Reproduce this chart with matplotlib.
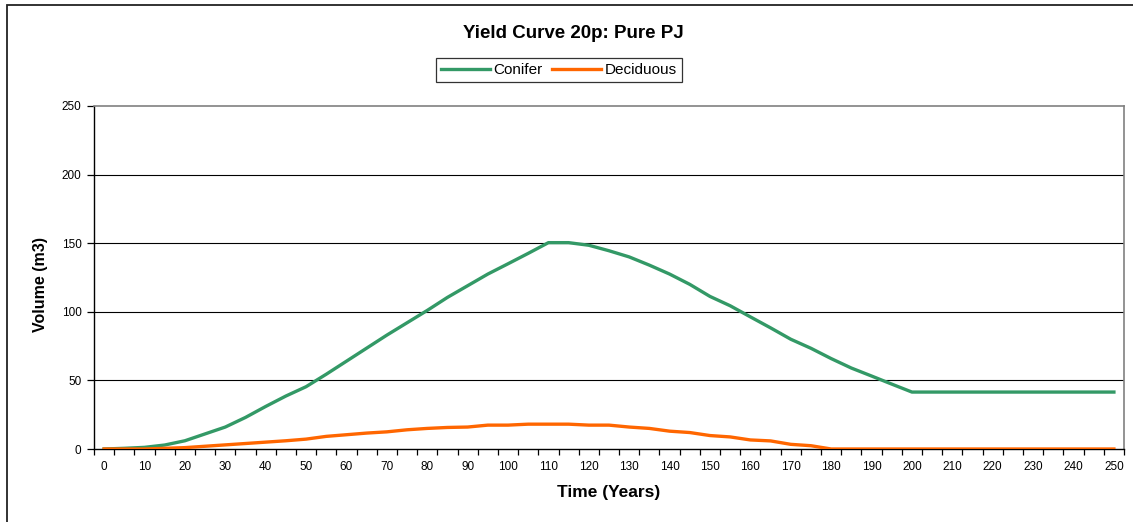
import matplotlib
matplotlib.use("Agg")
import matplotlib.pyplot as plt
from matplotlib.patches import Rectangle

plt.rcParams['font.family'] = ['Liberation Sans', 'DejaVu Sans']

# Stand age (years), one point every 5 years
years = list(range(0, 255, 5))

conifer = [0, 0.5, 1.2, 2.9, 6, 11, 16, 23, 31, 38.6,
           45.4, 54.5, 64, 73.5, 83, 92, 101, 110.5, 119, 127.5,
           135, 142.6, 150.4, 150.4, 148.5, 144.5, 140, 134, 127.5, 120,
           111.2, 104.4, 96.3, 88.3, 80, 73.4, 65.9, 59, 53.2, 47.3,
           41.5, 41.5, 41.5, 41.5, 41.5, 41.5, 41.5, 41.5, 41.5, 41.5,
           41.5]

deciduous = [0, 0, 0, 0.5, 1, 2, 3, 4, 5, 6,
             7.2, 9.2, 10.4, 11.6, 12.5, 14, 15, 15.7, 16, 17.4,
             17.4, 18.1, 18.1, 18.1, 17.4, 17.4, 16, 15, 13, 12,
             9.8, 8.8, 6.6, 5.9, 3.4, 2.4, 0, 0, 0, 0,
             0, 0, 0, 0, 0, 0, 0, 0, 0, 0,
             0]

x_labels = list(range(0, 260, 10))
y_ticks = [0, 50, 100, 150, 200, 250]

green = '#339966'
orange = '#FF6600'

W, H = 1133, 522
fig = plt.figure(figsize=(W / 100, H / 100), dpi=100)
fig.patch.set_facecolor('white')

# outer chart frame (only top and left edges fall inside the canvas)
fig.patches.append(Rectangle((7 / W, -0.1), 1.2, 1 - 5 / H + 0.1,
                             transform=fig.transFigure, fill=False,
                             edgecolor='#222222', linewidth=1.3,
                             clip_on=False))

ax = fig.add_axes([94 / W, 1 - 449 / H, (1124 - 94) / W, (449 - 106) / H])

ax.plot(years, conifer, color=green, linewidth=2.4, label='Conifer',
        solid_joinstyle='round', zorder=3)
ax.plot(years, deciduous, color=orange, linewidth=2.4, label='Deciduous',
        solid_joinstyle='round', zorder=3)

ax.set_xlim(-2.5, 252.5)
ax.set_ylim(0, 250)

for v in y_ticks[1:-1]:
    ax.axhline(v, color='black', linewidth=0.8, zorder=1)

ax.set_yticks(y_ticks)
ax.set_xticks(x_labels)
ax.set_xticklabels([str(v) for v in x_labels])
ax.set_xticks([-2.5 + 5 * i for i in range(52)], minor=True)
ax.tick_params(axis='x', which='major', length=0, pad=9, labelsize=8.5)
ax.tick_params(axis='x', which='minor', length=4, width=0.9, direction='out')
ax.tick_params(axis='y', length=5, width=0.9, direction='out', pad=4,
               labelsize=8.5)

for side in ('top', 'right'):
    ax.spines[side].set_color('#808080')
    ax.spines[side].set_linewidth(1.2)
for side in ('left', 'bottom'):
    ax.spines[side].set_color('black')
    ax.spines[side].set_linewidth(1.0)

ax.set_xlabel('Time (Years)', fontsize=12.5, fontweight='bold')
ax.set_ylabel('Volume (m3)', fontsize=11.5, fontweight='bold')
ax.xaxis.set_label_coords(0.5, -(493 - 449) / 343)
ax.yaxis.set_label_coords((41 - 94) / 1030, (449 - 285) / 343)
ax.xaxis.label.set_va('center')
ax.yaxis.label.set_va('center')

fig.text(573 / W, 1 - 34 / H, 'Yield Curve 20p: Pure PJ', ha='center',
         va='center', fontsize=13.5, fontweight='bold')

leg = fig.legend(loc='center', bbox_to_anchor=(559 / W, 1 - 70 / H), ncol=2,
                 frameon=True, fancybox=False, fontsize=11, handlelength=3.2,
                 handletextpad=0.25, columnspacing=0.6, borderpad=0.35,
                 borderaxespad=0)
leg.get_frame().set_edgecolor('black')
leg.get_frame().set_linewidth(0.9)

fig.savefig('out.png', dpi=100)
